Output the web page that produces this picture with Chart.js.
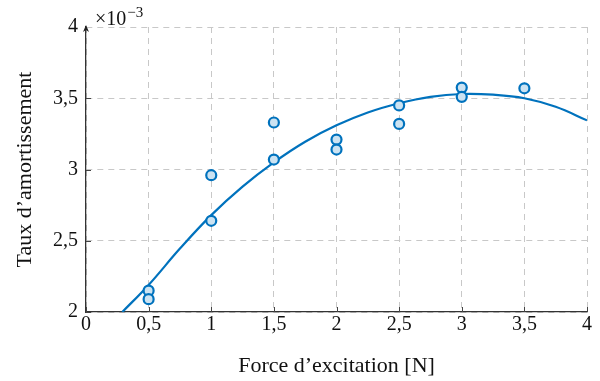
<!DOCTYPE html>
<html>
<head>
<meta charset="utf-8">
<script src="https://cdn.jsdelivr.net/npm/chart.js@4/dist/chart.umd.min.js"></script>
<style>
  html, body { margin: 0; padding: 0; background: #fff; }
  #wrap { width: 600px; height: 381px; }
</style>
</head>
<body>
<div id="wrap"><canvas id="chart" width="600" height="381"></canvas></div>
<script>
// measured points (force in N, damping ratio in 1e-3)
const forceX = [0.5, 0.5, 1, 1, 1.5, 1.5, 2, 2, 2.5, 2.5, 3, 3, 3.5];
const dampingY = [2.15, 2.09, 2.96, 2.64, 3.33, 3.07, 3.21, 3.14, 3.45, 3.32, 3.575, 3.51, 3.57];

// fitted curve
const fitX = [0.29, 0.5, 0.75, 1, 1.25, 1.5, 1.75, 2, 2.25, 2.5, 2.75, 3, 3.25, 3.5, 3.75, 4];
const fitY = [2.0, 2.19, 2.445, 2.68, 2.88, 3.05, 3.195, 3.31, 3.4, 3.465, 3.51, 3.53, 3.525, 3.5, 3.44, 3.345];

const xTicks = [0, 0.5, 1, 1.5, 2, 2.5, 3, 3.5, 4];
const yTicks = [2, 2.5, 3, 3.5, 4];

const BLUE = "#0072bd";
const FONT = "'Liberation Serif', serif";
const fmt = (v) => String(v).replace(".", ",");

const points = forceX.map((x, i) => ({ x: x, y: dampingY[i] }));
const fit = fitX.map((x, i) => ({ x: x, y: fitY[i] }));

// axis arrow, inner tick marks and the x10^-3 multiplier
const decorations = {
    id: "decorations",
    afterDraw(chart) {
        const { ctx, chartArea, scales } = chart;
        ctx.save();
        ctx.strokeStyle = "#444";
        ctx.lineWidth = 1;
        xTicks.forEach((t) => {
            const px = Math.round(scales.x.getPixelForValue(t)) + 0.5;
            ctx.beginPath();
            ctx.moveTo(px, chartArea.bottom);
            ctx.lineTo(px, chartArea.bottom - 5);
            ctx.stroke();
        });
        yTicks.slice(0, -1).forEach((t) => {
            const py = Math.round(scales.y.getPixelForValue(t)) + 0.5;
            ctx.beginPath();
            ctx.moveTo(chartArea.left, py);
            ctx.lineTo(chartArea.left + 5, py);
            ctx.stroke();
        });
        // arrow head on the y axis
        const ax = chartArea.left;
        const ay = chartArea.top - 2;
        ctx.fillStyle = "#222";
        ctx.beginPath();
        ctx.moveTo(ax, ay);
        ctx.lineTo(ax - 3, ay + 7);
        ctx.lineTo(ax, ay + 5);
        ctx.lineTo(ax + 3, ay + 7);
        ctx.closePath();
        ctx.fill();

        ctx.fillStyle = "#111";
        ctx.textBaseline = "alphabetic";
        ctx.font = "20px " + FONT;
        ctx.fillText("\u00d710", 95, 25);
        const w = ctx.measureText("\u00d710").width;
        ctx.font = "15px " + FONT;
        ctx.fillText("\u22123", 95 + w + 1, 17);
        ctx.restore();
    },
};

new Chart("chart", {
    data: {
        datasets: [
            {
                type: "scatter",
                data: points,
                pointRadius: 5,
                pointHoverRadius: 5,
                borderWidth: 2.2,
                borderColor: BLUE,
                backgroundColor: "rgb(204, 227, 242)",
                order: 0,
            },
            {
                type: "line",
                data: fit,
                borderColor: BLUE,
                borderWidth: 2.2,
                pointRadius: 0,
                tension: 0.4,
                fill: false,
                order: 1,
            },
        ],
    },
    options: {
        responsive: false,
        animation: false,
        layout: { padding: { top: 27, right: 13, left: 0, bottom: 0 } },
        plugins: { legend: { display: false }, tooltip: { enabled: false } },
        scales: {
            x: {
                type: "linear",
                min: 0,
                max: 4,
                afterFit: (s) => { s.height = 69; },
                afterBuildTicks: (s) => { s.ticks = xTicks.map((v) => ({ value: v })); },
                ticks: {
                    callback: (v) => fmt(v),
                    color: "#111",
                    font: { family: FONT, size: 20 },
                    padding: 1,
                    maxRotation: 0,
                },
                grid: {
                    color: "#c8c8c8",
                    lineWidth: 1,
                    drawTicks: false,
                },
                border: { display: true, color: "#333", width: 1.3, dash: [6, 5] },
                title: {
                    display: true,
                    text: "Force d\u2019excitation [N]",
                    color: "#111",
                    font: { family: FONT, size: 22 },
                    padding: { top: 0, bottom: 2 },
                },
            },
            y: {
                type: "linear",
                min: 2,
                max: 4,
                afterFit: (s) => { s.width = 86; },
                afterBuildTicks: (s) => { s.ticks = yTicks.map((v) => ({ value: v })); },
                ticks: {
                    callback: (v) => fmt(v),
                    color: "#111",
                    font: { family: FONT, size: 20 },
                    padding: 8,
                },
                grid: {
                    color: "#c8c8c8",
                    lineWidth: 1,
                    drawTicks: false,
                },
                border: { display: true, color: "#333", width: 1.3, dash: [6, 5] },
                title: {
                    display: true,
                    text: "Taux d\u2019amortissement",
                    color: "#111",
                    font: { family: FONT, size: 22 },
                    padding: { top: 12, bottom: 0 },
                },
            },
        },
    },
    plugins: [decorations],
});
</script>
</body>
</html>
